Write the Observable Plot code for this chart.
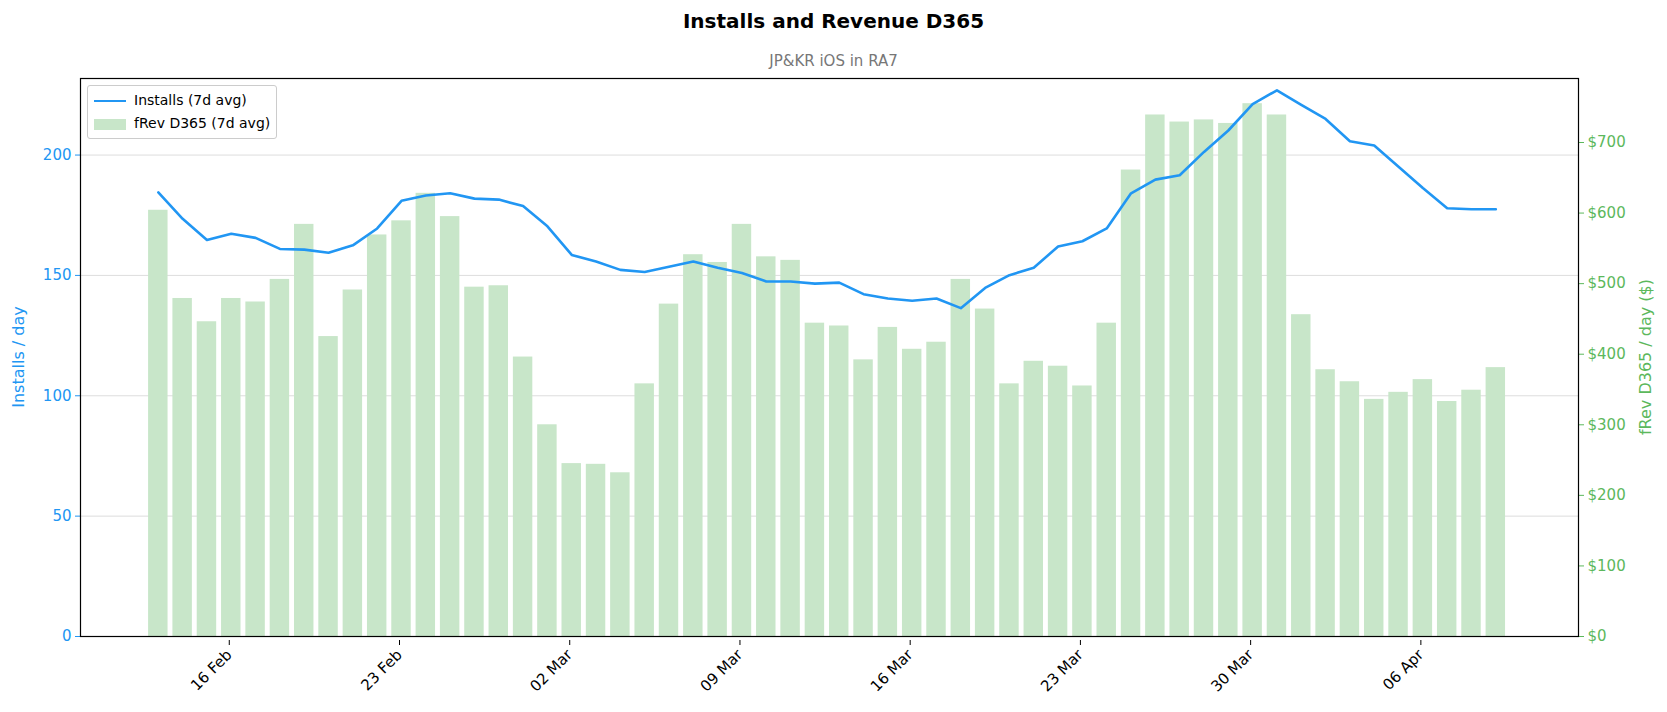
<!DOCTYPE html>
<html><head><meta charset="utf-8">
<script src="https://cdn.jsdelivr.net/npm/d3@7"></script>
<script src="https://cdn.jsdelivr.net/npm/@observablehq/plot@0.6"></script>
<style>
body{margin:0;font-family:"DejaVu Sans",sans-serif;background:#fff;}
#title{height:42px;line-height:42px;text-align:center;font-weight:bold;font-size:20px;}
#sub{height:34px;line-height:38px;text-align:center;font-size:15px;color:#777;}
#wrap{position:relative;}
#legend{position:absolute;left:87px;top:9px;border:1px solid #ccc;border-radius:3px;background:rgba(255,255,255,0.9);padding:3px 6px;font-size:14px;line-height:23px;}
.sw{display:inline-block;width:32px;vertical-align:middle;margin-right:8px;}
</style></head><body>
<div id="title">Installs and Revenue D365</div>
<div id="sub">JP&amp;KR iOS in RA7</div>
<div id="wrap"></div>
<script>
const startDate = "2025-02-13";
const installs = [184.5,173.5,164.7,167.3,165.6,161,160.7,159.4,162.5,169.5,181,183.2,184.1,181.9,181.5,178.8,170.4,158.5,155.8,152.3,151.4,153.6,155.8,153.2,151,147.5,147.5,146.6,147,142.2,140.4,139.5,140.4,136.4,144.8,150.1,153.2,162,164.2,169.5,184.1,189.8,191.6,201.3,210.2,221.2,226.9,220.8,215,205.7,204,195.1,186.3,177.9,177.5,177.5];
const revenue = [604,479,446,479,474,506,584,425,491,569,589,628,595,495,497,396,300,245,244,232,358,471,541,530,584,538,533,444,440,392,438,407,417,506,464,358,390,383,355,444,661,739,729,732,727,755,739,456,378,361,336,346,364,333,349,381];
const xTicks = ["2025-02-16","2025-02-23","2025-03-02","2025-03-09","2025-03-16","2025-03-23","2025-03-30","2025-04-06"];
const leftTicks = [0,50,100,150,200];
const rightTicks = [0,100,200,300,400,500,600,700];

const DAY = 864e5;
const t0 = new Date(startDate + "T00:00:00Z").getTime();
const data = installs.map((v,i)=>({date:new Date(t0+i*DAY), inst:v, rev:revenue[i]}));
const yMax = 231.8, rMax = 790.7, k = yMax/rMax;
const blue = "#2196F3", green = "#5cb85c";
const ticks = xTicks.map(s=>new Date(s+"T00:00:00Z"));

const chart = Plot.plot({
  width:1667, height:636,
  marginTop:2, marginBottom:76, marginLeft:80, marginRight:89,
  style:{fontSize:"15px", fontFamily:"DejaVu Sans, sans-serif", background:"#fff"},
  x:{type:"utc", domain:[new Date(t0-3.2*DAY), new Date(t0+58.4*DAY)]},
  y:{domain:[0,yMax]},
  marks:[
    Plot.gridY(leftTicks.slice(1), {stroke:"#ddd", strokeOpacity:1}),
    Plot.rectY(data, {x1:d=>new Date(+d.date-0.4*DAY), x2:d=>new Date(+d.date+0.4*DAY), y:d=>d.rev*k, fill:"#c8e6c9"}),
    Plot.lineY(data, {x:"date", y:"inst", stroke:blue, strokeWidth:2.6}),
    Plot.axisX(ticks, {tickFormat:d3.utcFormat("%d %b"), tickRotate:-45, tickSize:5, fill:"#000", fontSize:15, textAnchor:"end", dy:4, dx:-2}),
    Plot.axisY(leftTicks, {anchor:"left", tickSize:5, color:blue, label:null, fontSize:15}),
    Plot.axisY(rightTicks.map(v=>v*k), {anchor:"right", tickSize:5, color:green, tickFormat:v=>"$"+Math.round(v/k), label:null, fontSize:15}),
    Plot.frame({stroke:"#000", strokeWidth:1.2}),
  ]
});
const wrap = document.getElementById("wrap");
wrap.appendChild(chart);
const svg = d3.select(chart);
svg.append("text").attr("transform","translate(24,281) rotate(-90)").attr("text-anchor","middle").attr("fill",blue).style("font-size","16px").text("Installs / day");
svg.append("text").attr("transform","translate(1651,281) rotate(-90)").attr("text-anchor","middle").attr("fill",green).style("font-size","16px").text("fRev D365 / day ($)");
const lg = document.createElement("div");
lg.id="legend";
lg.innerHTML = `<div><span class="sw" style="border-top:2.6px solid ${blue}"></span>Installs (7d avg)</div><div><span class="sw" style="height:11px;background:#c8e6c9"></span>fRev D365 (7d avg)</div>`;
wrap.appendChild(lg);
</script>
</body></html>
